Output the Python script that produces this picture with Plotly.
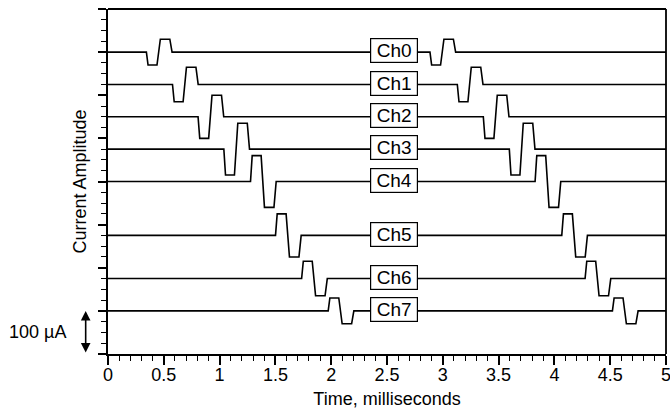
import plotly.graph_objects as go

# ---- data ----
channels = ["Ch0", "Ch1", "Ch2", "Ch3", "Ch4", "Ch5", "Ch6", "Ch7"]
baseline_uA = [700, 625, 550, 475, 400, 275, 175, 100]
amplitude_uA = [30, 40, 50, 60, 60, 50, 40, 30]
first_phase_sign = [-1, -1, -1, -1, 1, 1, 1, 1]
pulse1_onset_ms = [0.344, 0.578, 0.807, 1.038, 1.277, 1.501, 1.735, 1.973]
pulse2_onset_ms = [2.885, 3.130, 3.363, 3.596, 3.827, 4.066, 4.275, 4.520]
# biphasic pulse template: relative times (ms) and relative levels
pulse_rel_t = [0.0, 0.015, 0.095, 0.125, 0.21, 0.23]
pulse_rel_level = [0, 1, 1, -1, -1, 0]
label_time_ms = 2.56
x_tick_vals = [0, 0.5, 1, 1.5, 2, 2.5, 3, 3.5, 4, 4.5, 5]
x_tick_text = ["0", "0.5", "1", "1.5", "2", "2.5", "3", "3.5", "4", "4.5", "5"]
scale_bar_uA = 100

FONT = "Liberation Sans, Arial, sans-serif"

fig = go.Figure()
for i, ch in enumerate(channels):
    b = baseline_uA[i]
    a = amplitude_uA[i] * first_phase_sign[i]
    xs = [0.0]
    ys = [b]
    for onset in (pulse1_onset_ms[i], pulse2_onset_ms[i]):
        for rt, lv in zip(pulse_rel_t, pulse_rel_level):
            xs.append(onset + rt)
            ys.append(b + a * lv)
    xs.append(5.0)
    ys.append(b)
    fig.add_trace(go.Scatter(x=xs, y=ys, mode="lines",
                             line=dict(color="black", width=1.6),
                             showlegend=False, hoverinfo="skip"))
    fig.add_annotation(x=label_time_ms, y=b + 3, xref="x", yref="y",
                       text=ch, showarrow=False,
                       font=dict(family=FONT, size=19, color="black"),
                       bgcolor="white", bordercolor="black", borderwidth=1.2,
                       width=46, height=23, borderpad=0)

# plot frame: top and right edges
fig.add_shape(type="line", xref="paper", yref="paper", x0=0, x1=1, y0=1, y1=1,
              line=dict(color="black", width=1.8), layer="above")
fig.add_shape(type="line", xref="paper", yref="paper", x0=1, x1=1, y0=0, y1=1,
              line=dict(color="black", width=1.8), layer="above")

# scale bar 100 µA
fig.add_annotation(x=-0.04, y=scale_bar_uA, xref="paper", yref="y",
                   ax=0, ay=0, axref="pixel", ayref="y",
                   showarrow=True, arrowside="end+start", arrowhead=2,
                   arrowsize=1.2, arrowwidth=1.6, arrowcolor="black", text="")
fig.add_annotation(x=-0.072, y=scale_bar_uA / 2, xref="paper", yref="y",
                   text="100 µA", showarrow=False, xanchor="right",
                   font=dict(family=FONT, size=18, color="black"))

fig.update_layout(
    width=670, height=414,
    margin=dict(l=108, r=4, t=9, b=60),
    paper_bgcolor="white", plot_bgcolor="white",
    font=dict(family=FONT, size=18, color="black"),
    xaxis=dict(range=[0, 5], showgrid=False, zeroline=False, automargin=False,
               showline=True, linecolor="black", linewidth=1.6,
               ticks="outside", ticklen=9, tickwidth=1.5, tickcolor="black",
               tickvals=x_tick_vals, ticktext=x_tick_text,
               tickfont=dict(family=FONT, size=18), ticklabelstandoff=-5,
               ticklabeloverflow="allow",
               minor=dict(dtick=0.1, ticks="outside", ticklen=5,
                          tickwidth=1.3, tickcolor="black"),
               title=dict(text="Time, milliseconds",
                          font=dict(family=FONT, size=18), standoff=8)),
    yaxis=dict(range=[0, 800], showgrid=False, zeroline=False, automargin=False,
               showline=True, linecolor="black", linewidth=2,
               ticks="outside", ticklen=8, tickwidth=1.5, tickcolor="black",
               dtick=100, showticklabels=False,
               minor=dict(dtick=25, ticks="outside", ticklen=5,
                          tickwidth=1.3, tickcolor="black"),
               title=dict(text="Current Amplitude",
                          font=dict(family=FONT, size=18), standoff=7)),
)

fig.write_html(
    "out.html",
    config={"displayModeBar": False},
    post_script="document.body.style.margin='0';document.body.style.overflow='hidden';",
)
